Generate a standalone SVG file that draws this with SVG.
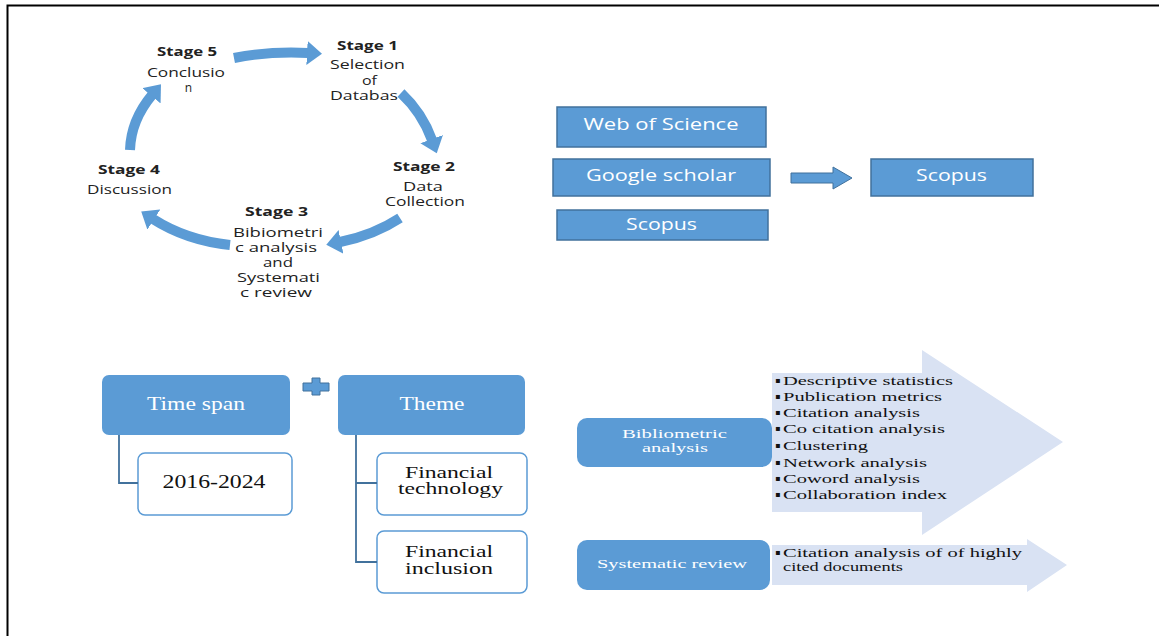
<svg xmlns="http://www.w3.org/2000/svg" width="1159" height="636" viewBox="0 0 1159 636">
  <style>
    .cyc { font-family: "Open Sans", "DejaVu Sans", sans-serif; font-size: 12px; fill: #222; text-anchor: middle; }
    .cyc.b { font-weight: bold; }
    .db { font-family: "Open Sans", "DejaVu Sans", sans-serif; font-size: 16px; fill: #fff; text-anchor: middle; }
    .dbbox { fill: #5B9BD5; stroke: #41719C; stroke-width: 1.5; }
    .head { fill: #5B9BD5; }
    .child { fill: #fff; stroke: #5B9BD5; stroke-width: 1.5; }
    .serifw { font-family: "Liberation Serif", "Times New Roman", serif; font-size: 19px; fill: #fff; text-anchor: middle; }
    .serifk { font-family: "Liberation Serif", "Times New Roman", serif; font-size: 19px; fill: #111; text-anchor: middle; }
    .serifk2 { font-family: "Liberation Serif", "Times New Roman", serif; font-size: 16px; fill: #111; text-anchor: middle; }
    .sw14 { font-family: "Liberation Serif", "Times New Roman", serif; font-size: 13px; fill: #fff; text-anchor: middle; }
    .li { font-family: "Liberation Serif", "Times New Roman", serif; font-size: 13px; fill: #111; }
    .bul { font-family: "DejaVu Sans", sans-serif; font-size: 8px; fill: #111; }
    .cyc-arrow { fill: none; stroke: #5B9BD5; stroke-width: 10; }
    .tree { fill: none; stroke: #41719C; stroke-width: 1.8; }
    .bigarrow { fill: #D9E2F3; }
  </style>
  <defs>
    <marker id="ah" markerUnits="userSpaceOnUse" markerWidth="16" markerHeight="24" viewBox="0 0 16 24" refX="1" refY="12" orient="auto">
      <path d="M0,0 L15,12 L0,24 Z" fill="#5B9BD5"/>
    </marker>
  </defs>

  <rect width="1159" height="636" fill="#fff"/>
  <path d="M7.5 636 V5.5 H1159" fill="none" stroke="#000" stroke-width="2"/>

  <!-- cycle texts -->
  <g id="stage5">
    <text class="cyc b" x="187" y="56" textLength="60" lengthAdjust="spacingAndGlyphs">Stage 5</text>
    <text class="cyc" x="186" y="77" textLength="78" lengthAdjust="spacingAndGlyphs">Conclusio</text>
    <text class="cyc" x="188.5" y="92">n</text>
  </g>
  <g id="stage1">
    <text class="cyc b" x="367.5" y="50" textLength="61" lengthAdjust="spacingAndGlyphs">Stage 1</text>
    <text class="cyc" x="367.5" y="69" textLength="75" lengthAdjust="spacingAndGlyphs">Selection</text>
    <text class="cyc" x="369.5" y="85" textLength="15" lengthAdjust="spacingAndGlyphs">of</text>
    <text class="cyc" x="330" y="100" style="text-anchor:start" textLength="68" lengthAdjust="spacingAndGlyphs">Databas</text>
  </g>
  <g id="stage2">
    <text class="cyc b" x="424" y="171" textLength="62" lengthAdjust="spacingAndGlyphs">Stage 2</text>
    <text class="cyc" x="423" y="191" textLength="40" lengthAdjust="spacingAndGlyphs">Data</text>
    <text class="cyc" x="425" y="206" textLength="80" lengthAdjust="spacingAndGlyphs">Collection</text>
  </g>
  <g id="stage3">
    <text class="cyc b" x="276.5" y="216" textLength="63" lengthAdjust="spacingAndGlyphs">Stage 3</text>
    <text class="cyc" x="278" y="237" textLength="90" lengthAdjust="spacingAndGlyphs">Bibiometri</text>
    <text class="cyc" x="276" y="252" textLength="82" lengthAdjust="spacingAndGlyphs">c analysis</text>
    <text class="cyc" x="278" y="267" textLength="30" lengthAdjust="spacingAndGlyphs">and</text>
    <text class="cyc" x="278.5" y="282" textLength="83" lengthAdjust="spacingAndGlyphs">Systemati</text>
    <text class="cyc" x="276" y="297" textLength="72" lengthAdjust="spacingAndGlyphs">c review</text>
  </g>
  <g id="stage4">
    <text class="cyc b" x="129" y="174" textLength="62" lengthAdjust="spacingAndGlyphs">Stage 4</text>
    <text class="cyc" x="129.5" y="194" textLength="85" lengthAdjust="spacingAndGlyphs">Discussion</text>
  </g>

  <!-- database boxes -->
  <g id="wos">
    <rect class="dbbox" x="557" y="107" width="209" height="40"/>
    <text class="db" x="661" y="130" textLength="155" lengthAdjust="spacingAndGlyphs">Web of Science</text>
  </g>
  <g id="gscholar">
    <rect class="dbbox" x="553" y="159" width="217" height="37"/>
    <text class="db" x="661" y="181" textLength="150" lengthAdjust="spacingAndGlyphs">Google scholar</text>
  </g>
  <g id="scopus-left">
    <rect class="dbbox" x="557" y="210" width="211" height="30"/>
    <text class="db" x="661.5" y="230" textLength="71" lengthAdjust="spacingAndGlyphs">Scopus</text>
  </g>
  <g id="scopus-right">
    <rect class="dbbox" x="871" y="159" width="162" height="37"/>
    <text class="db" x="951.5" y="181" textLength="71" lengthAdjust="spacingAndGlyphs">Scopus</text>
  </g>

  <!-- criteria -->
  <g id="timespan">
    <rect class="head" x="102" y="375" width="188" height="60" rx="7"/>
    <text class="serifw" x="196" y="410" textLength="98" lengthAdjust="spacingAndGlyphs">Time span</text>
  </g>
  <g id="plus">
    <polygon points="312,378 320,378 320,383 329,383 329,391 320,391 320,395 312,395 312,391 303,391 303,383 312,383" fill="#5B9BD5" stroke="#41719C" stroke-width="1"/>
  </g>
  <g id="theme">
    <rect class="head" x="338" y="375" width="187" height="60" rx="7"/>
    <text class="serifw" x="432" y="410" textLength="65" lengthAdjust="spacingAndGlyphs">Theme</text>
  </g>
  <g id="years">
    <rect class="child" x="138" y="453" width="154" height="62" rx="7"/>
    <text class="serifk" x="214" y="488" textLength="103" lengthAdjust="spacingAndGlyphs">2016-2024</text>
  </g>
  <g id="fintech">
    <rect class="child" x="377" y="453" width="150" height="62" rx="7"/>
    <text class="serifk2" x="449" y="478" textLength="88" lengthAdjust="spacingAndGlyphs">Financial</text>
    <text class="serifk2" x="450.5" y="494" textLength="105" lengthAdjust="spacingAndGlyphs">technology</text>
  </g>
  <g id="fininclusion">
    <rect class="child" x="377" y="531" width="150" height="62" rx="7"/>
    <text class="serifk2" x="449" y="557" textLength="88" lengthAdjust="spacingAndGlyphs">Financial</text>
    <text class="serifk2" x="449" y="574" textLength="88" lengthAdjust="spacingAndGlyphs">inclusion</text>
  </g>

  <!-- methods -->
  <g id="bibliometric">
    <polygon class="bigarrow" points="772,373 922,373 922,350 1063,442 922,535 922,512 772,512"/>
    <rect class="head" x="577" y="418" width="195" height="49" rx="10"/>
    <text class="sw14" x="674.5" y="438" textLength="105" lengthAdjust="spacingAndGlyphs">Bibliometric</text>
    <text class="sw14" x="675" y="452" textLength="66" lengthAdjust="spacingAndGlyphs">analysis</text>
    <g class="bul">
      <text x="775" y="383">▪</text>
      <text x="775" y="399">▪</text>
      <text x="775" y="415">▪</text>
      <text x="775" y="431">▪</text>
      <text x="775" y="448">▪</text>
      <text x="775" y="465">▪</text>
      <text x="775" y="481">▪</text>
      <text x="775" y="497">▪</text>
    </g>
    <text class="li" x="783" y="385" textLength="170" lengthAdjust="spacingAndGlyphs">Descriptive statistics</text>
    <text class="li" x="783" y="401" textLength="159" lengthAdjust="spacingAndGlyphs">Publication metrics</text>
    <text class="li" x="783" y="417" textLength="137" lengthAdjust="spacingAndGlyphs">Citation analysis</text>
    <text class="li" x="783" y="433" textLength="162" lengthAdjust="spacingAndGlyphs">Co citation analysis</text>
    <text class="li" x="783" y="450" textLength="85" lengthAdjust="spacingAndGlyphs">Clustering</text>
    <text class="li" x="783" y="467" textLength="144" lengthAdjust="spacingAndGlyphs">Network analysis</text>
    <text class="li" x="783" y="483" textLength="137" lengthAdjust="spacingAndGlyphs">Coword analysis</text>
    <text class="li" x="783" y="499" textLength="164" lengthAdjust="spacingAndGlyphs">Collaboration index</text>
  </g>
  <g id="systematic">
    <polygon class="bigarrow" points="772,545 1027,545 1027,539 1067,565 1027,592 1027,585 772,585"/>
    <rect class="head" x="577" y="540" width="193" height="50" rx="10"/>
    <text class="sw14" x="672" y="568" textLength="150" lengthAdjust="spacingAndGlyphs">Systematic review</text>
    <text class="bul" x="775" y="555">▪</text>
    <text class="li" x="783" y="557" textLength="239" lengthAdjust="spacingAndGlyphs">Citation analysis of of highly</text>
    <text class="li" x="783" y="571" textLength="120" lengthAdjust="spacingAndGlyphs">cited documents</text>
  </g>

  <!-- connectors -->
  <g id="connectors">
    <path class="cyc-arrow" d="M234 58 A200 130 0 0 1 308 53" marker-end="url(#ah)"/>
    <path class="cyc-arrow" d="M401 93 A120 120 0 0 1 432 140" marker-end="url(#ah)"/>
    <path class="cyc-arrow" d="M400 218 A150 110 0 0 1 340 242" marker-end="url(#ah)"/>
    <path class="cyc-arrow" d="M230 245 A150 110 0 0 1 153 219" marker-end="url(#ah)"/>
    <path class="cyc-arrow" d="M130 150 A150 110 0 0 1 152 95" marker-end="url(#ah)"/>
    <polygon points="791,173 833,173 833,167 852,178 833,189 833,183 791,183" fill="#5B9BD5" stroke="#41719C" stroke-width="1"/>
    <path class="tree" d="M119 435 V483 H138"/>
    <path class="tree" d="M356 435 V562 H377 M356 483 H377"/>
  </g>
</svg>
